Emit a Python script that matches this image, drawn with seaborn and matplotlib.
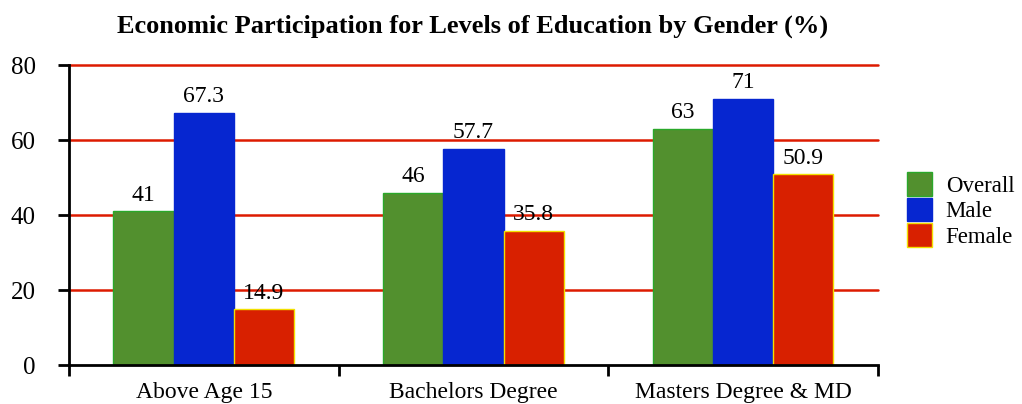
import matplotlib
matplotlib.use("Agg")
import matplotlib.pyplot as plt
import seaborn as sns
import pandas as pd
from matplotlib.patches import Patch

categories = ["Above Age 15", "Bachelors Degree", "Masters Degree & MD"]
series = ["Overall", "Male", "Female"]
overall = [41, 46, 63]
male = [67.3, 57.7, 71]
female = [14.9, 35.8, 50.9]
title = "Economic Participation for Levels of Education by Gender (%)"

fills = {"Overall": "#52902e", "Male": "#0626d0", "Female": "#d82000"}
edges = {"Overall": "#2aa82a", "Male": "#0626d0", "Female": "#f2e000"}

rows = []
for s, vals in zip(series, [overall, male, female]):
    for c, v in zip(categories, vals):
        rows.append({"cat": c, "series": s, "value": v})
df = pd.DataFrame(rows)

sns.set_theme(style="ticks")
plt.rcParams["font.family"] = ["Liberation Serif", "DejaVu Serif"]
plt.rcParams["text.color"] = "black"
plt.rcParams["xtick.color"] = "black"
plt.rcParams["ytick.color"] = "black"
plt.rcParams["axes.labelcolor"] = "black"

fig = plt.figure(figsize=(10.22, 4.04), dpi=100)
ax = fig.add_axes([0.0675, 0.0965, 0.7915, 0.7425])

sns.barplot(data=df, x="cat", y="value", hue="series", order=categories,
            hue_order=series, palette=fills, width=0.67, ax=ax,
            errorbar=None, legend=False, saturation=1)

for cont, s in zip(ax.containers, series):
    for p in cont:
        p.set_edgecolor(edges[s])
        p.set_linewidth(1.0)
        p.set_zorder(2)
    ax.bar_label(cont, labels=[f"{v:g}" for v in cont.datavalues],
                 padding=4, fontsize=17, color="black")

ax.set_ylim(0, 80)
ax.set_xlim(-0.5, 2.5)
ax.set_yticks([0, 20, 40, 60, 80])
ax.set_yticklabels(["0", "20", "40", "60", "80"], fontsize=18)
for yv in [20, 40, 60, 80]:
    ax.axhline(yv, color="#dd1a00", lw=1.8, zorder=1, clip_on=False)

ax.set_xticks([-0.5, 0.5, 1.5, 2.5])
ax.set_xticklabels([])
ax.set_xticks([0, 1, 2], minor=True)
ax.set_xticklabels(categories, minor=True, fontsize=17)
ax.tick_params(axis="x", which="minor", length=0, pad=12)
ax.tick_params(axis="x", which="major", length=8, width=2, color="black", direction="out")
ax.tick_params(axis="y", which="major", length=8, width=2, color="black", direction="out", pad=16)
ax.tick_params(axis="y", which="minor", length=0)
ax.set_xlabel("")
ax.set_ylabel("")

for side in ["top", "right"]:
    ax.spines[side].set_visible(False)
for side in ["left", "bottom"]:
    ax.spines[side].set_color("black")
    ax.spines[side].set_linewidth(2)
    ax.spines[side].set_zorder(3)

fig.suptitle(title, fontsize=19, fontweight="bold", x=0.462, y=0.965)

handles = [Patch(facecolor=fills[s], edgecolor=edges[s], label=s) for s in series]
fig.legend(handles=handles, loc="center left", bbox_to_anchor=(0.876, 0.48),
           frameon=False, fontsize=16.5, handlelength=1.1, handleheight=1.2,
           handletextpad=0.6, labelspacing=0.05, borderpad=0)

fig.savefig("out.png", dpi=100)
